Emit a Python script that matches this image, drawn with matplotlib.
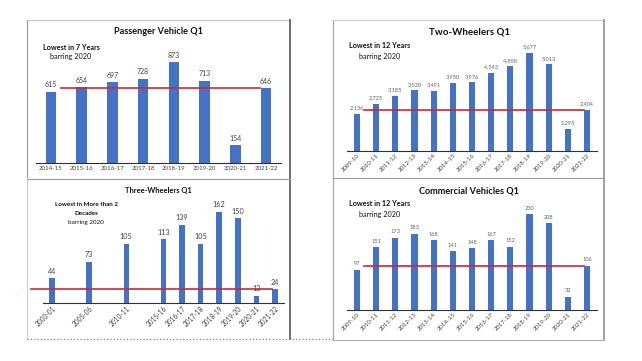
import numpy as np
import matplotlib.pyplot as plt
from matplotlib.lines import Line2D

plt.rcParams['font.family'] = ['Lato', 'DejaVu Sans']

W, H = 642, 361

pv_labels = ["2014-15", "2015-16", "2016-17", "2017-18", "2018-19", "2019-20", "2020-21", "2021-22"]
pv_values = [615, 654, 697, 728, 873, 713, 154, 646]

tw_labels = ["2009-10", "2010-11", "2011-12", "2012-13", "2013-14", "2014-15", "2015-16",
             "2016-17", "2017-18", "2018-19", "2019-20", "2020-21", "2021-22"]
tw_values = [2136, 2725, 3185, 3520, 3491, 3950, 3976, 4543, 4898, 5677, 5013, 1295, 2404]

# blank slots keep the gaps between the early years
w3_labels = ["2000-01", "", "2005-06", "", "2010-11", "", "2015-16", "2016-17",
             "2017-18", "2018-19", "2019-20", "2020-21", "2021-22"]
w3_values = [44, np.nan, 73, np.nan, 105, np.nan, 113, 139, 105, 162, 150, 13, 24]

cv_labels = tw_labels
cv_values = [97, 151, 173, 183, 168, 141, 148, 167, 152, 230, 208, 32, 106]

BLUE = "#4472C4"
RED = "#C8283C"
TXT = "#404040"

fig = plt.figure(figsize=(W / 100, H / 100), dpi=100)
fig.patch.set_facecolor("white")


def px_axes(x0, y0, x1, y1):
    # pixel box (top-left origin) -> figure axes
    return fig.add_axes([x0 / W, 1 - y1 / H, (x1 - x0) / W, (y1 - y0) / H])


def panel(box, labels, values, ymax, width, vfs, vfmt, vcol, tfs, rot, line_x0, line_x1):
    ax = px_axes(*box)
    x = np.arange(len(labels))
    v = np.array(values, dtype=float)
    ok = ~np.isnan(v)
    ax.bar(x[ok], v[ok], width=width, color=BLUE, zorder=2)
    ax.set_xlim(-0.5, len(labels) - 0.5)
    ax.set_ylim(0, ymax)
    for s in ["top", "right", "left"]:
        ax.spines[s].set_visible(False)
    ax.spines["bottom"].set_color("#303030")
    ax.spines["bottom"].set_linewidth(0.8)
    ax.set_yticks([])
    ax.set_xticks(x[ok])
    ax.tick_params(axis="x", length=0, pad=2.5 if rot == 0 else 1.5)
    if rot:
        ax.set_xticklabels(np.array(labels)[ok], rotation=rot, ha="right", va="top",
                           rotation_mode="anchor", fontsize=tfs, color=TXT)
    else:
        ax.set_xticklabels(np.array(labels)[ok], fontsize=tfs, color=TXT)
    for xi, vi in zip(x[ok], v[ok]):
        ax.annotate(vfmt(vi), (xi, vi), xytext=(0, 2.5), textcoords="offset points",
                    ha="center", va="bottom", fontsize=vfs, color=vcol)
    ax.plot([line_x0, len(labels) - 1 + line_x1], [v[-1], v[-1]], color=RED, lw=1.2,
            zorder=3, clip_on=False)
    return ax


panel((35.6, 47.3, 281.4, 163), pv_labels, pv_values, 1000, 0.34, 5.0,
      lambda v: f"{v:.0f}", TXT, 4.4, 0, 0.33, -0.2)
panel((347.4, 39, 596.6, 151), tw_labels, tw_values, 6490, 0.32, 4.1,
      lambda v: f"{v:,.0f}", "#606060", 4.3, 45, 0.35, -0.15)
panel((42.7, 190.3, 284.2, 303), w3_labels, w3_values, 200, 0.3, 5.2,
      lambda v: f"{v:.0f}", TXT, 4.7, 45, -1.13, -0.18)
panel((347.4, 198, 596.6, 310), cv_labels, cv_values, 269, 0.32, 4.1,
      lambda v: f"{v:.0f}", "#606060", 4.3, 45, 0.35, -0.15)

# frames, titles and notes in pixel space
ov = fig.add_axes([0, 0, 1, 1], facecolor="none")
ov.set_xlim(0, W)
ov.set_ylim(H, 0)
ov.axis("off")

frames = [
    ([27, 27], [20, 179], "#a0a0a0", 0.9, "-"),
    ([27, 290], [20, 20], "#c8c8c8", 0.9, "-"),
    ([290, 290], [20, 339], "#707070", 1.4, "-"),
    ([27, 290], [179, 179], "#a0a0a0", 0.9, "-"),
    ([27, 27], [179, 339], "#d0d0d0", 0.9, "-"),
    ([27, 333], [339, 339], "#808080", 0.9, ":"),
    ([333, 333], [20, 340], "#a8a8a8", 0.9, "-"),
    ([333, 604], [20, 20], "#d0d0d0", 0.9, "-"),
    ([604, 604], [20, 340], "#909090", 1.2, "-"),
    ([333, 604], [178, 178], "#a0a0a0", 0.9, "-"),
    ([333, 604], [340, 340], "#b0b0b0", 0.9, "-"),
]
for xs, ys, c, lw, ls in frames:
    ov.add_line(Line2D(xs, ys, color=c, lw=lw, ls=ls))

titles = [
    (158, 32, "Passenger Vehicle Q1", 6.6),
    (470, 32, "Two-Wheelers Q1", 7.0),
    (158, 190, "Three-Wheelers Q1", 5.4),
    (469, 191, "Commercial Vehicles Q1", 6.6),
]
for tx, ty, t, fs in titles:
    ov.text(tx, ty, t, ha="center", va="center", fontsize=fs, fontweight="bold", color="#111111")

notes = [
    (71, 47, "Lowest in 7 Years", 5.2, "bold"),
    (71, 57, "barring 2020", 5.2, "normal"),
    (380, 46, "Lowest in 12 Years", 5.2, "bold"),
    (380, 56, "barring 2020", 5.2, "normal"),
    (86, 204.5, "Lowest in More than 2", 4.5, "bold"),
    (86, 213.5, "Decades", 4.5, "bold"),
    (86, 222.5, "barring 2020", 4.5, "normal"),
    (380, 204, "Lowest in 12 Years", 5.2, "bold"),
    (380, 214, "barring 2020", 5.2, "normal"),
]
for tx, ty, t, fs, fw in notes:
    ov.text(tx, ty, t, ha="center", va="center", fontsize=fs, fontweight=fw, color="#111111")

fig.savefig("out.png", dpi=100)
